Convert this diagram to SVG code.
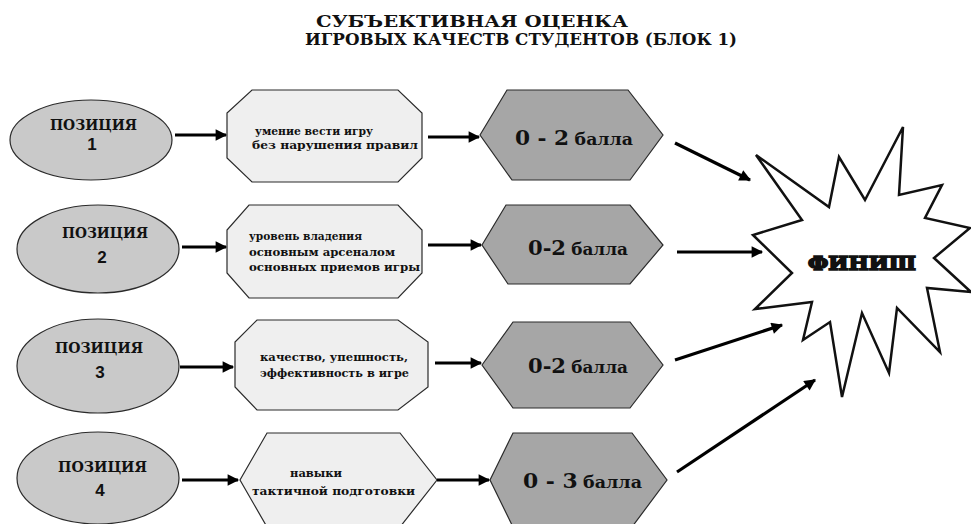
<svg xmlns="http://www.w3.org/2000/svg" width="971" height="524" viewBox="0 0 971 524">
<defs>
<style>
.ell{fill:#c9c9c9;stroke:#2a2a2a;stroke-width:1.2}
.oct{fill:#efefef;stroke:#2a2a2a;stroke-width:1.2}
.hex{fill:#a6a6a6;stroke:#2a2a2a;stroke-width:1.2}
.star{fill:#fff;stroke:#111;stroke-width:2.5;stroke-linejoin:miter}
.t{font-family:"DejaVu Serif","Liberation Serif",serif;font-weight:bold;fill:#111}
.pos{font-size:14px}
.num{font-family:"Liberation Sans",Arial,sans-serif;font-weight:bold;font-size:17px;fill:#111}
.small{font-size:10.5px}
.big{font-size:20px}
.mid{font-size:16px}
.title{font-size:16px}
.con{stroke:#000;stroke-width:3.2;fill:none}
</style>
<marker id="ah" viewBox="0 0 10 10" refX="9" refY="5" markerWidth="4.4" markerHeight="3.6" orient="auto" markerUnits="strokeWidth">
<path d="M0,0 L10,5 L0,10 z" fill="#000"/>
</marker>
</defs>
<rect width="971" height="524" fill="#fff"/>

<g id="title">
<text class="t title" x="316" y="27" textLength="312" lengthAdjust="spacingAndGlyphs">СУБЪЕКТИВНАЯ ОЦЕНКА</text>
<text class="t title" x="305" y="45" textLength="432" lengthAdjust="spacingAndGlyphs">ИГРОВЫХ КАЧЕСТВ СТУДЕНТОВ (БЛОК 1)</text>
</g>

<g id="pos1">
<ellipse class="ell" cx="91" cy="140" rx="81" ry="40"/>
<text class="t pos" x="50" y="130" textLength="87" lengthAdjust="spacingAndGlyphs">ПОЗИЦИЯ</text>
<text class="num" x="92" y="150" text-anchor="middle">1</text>
</g>
<g id="pos2">
<ellipse class="ell" cx="98" cy="249" rx="81" ry="44"/>
<text class="t pos" x="62" y="238" textLength="86" lengthAdjust="spacingAndGlyphs">ПОЗИЦИЯ</text>
<text class="num" x="102" y="263" text-anchor="middle">2</text>
</g>
<g id="pos3">
<ellipse class="ell" cx="98" cy="366" rx="81" ry="47"/>
<text class="t pos" x="55" y="353" textLength="88" lengthAdjust="spacingAndGlyphs">ПОЗИЦИЯ</text>
<text class="num" x="100" y="378" text-anchor="middle">3</text>
</g>
<g id="pos4">
<ellipse class="ell" cx="98" cy="478" rx="81" ry="46"/>
<text class="t pos" x="58" y="472" textLength="89" lengthAdjust="spacingAndGlyphs">ПОЗИЦИЯ</text>
<text class="num" x="100" y="496" text-anchor="middle">4</text>
</g>

<g id="crit1">
<polygon class="oct" points="252,90 398,90 422,113 422,158 398,182 252,182 227,158 227,113"/>
<text class="t small" x="255" y="135" textLength="118" lengthAdjust="spacingAndGlyphs">умение вести игру</text>
<text class="t small" x="252" y="149" textLength="166" lengthAdjust="spacingAndGlyphs">без нарушения правил</text>
</g>
<g id="crit2">
<polygon class="oct" points="249,205 398,205 422,230 422,273 398,298 249,298 227,273 227,230"/>
<text class="t small" x="249" y="240" textLength="113" lengthAdjust="spacingAndGlyphs">уровень владения</text>
<text class="t small" x="249" y="256" textLength="146" lengthAdjust="spacingAndGlyphs">основным арсеналом</text>
<text class="t small" x="249" y="271" textLength="171" lengthAdjust="spacingAndGlyphs">основных приемов игры</text>
</g>
<g id="crit3">
<polygon class="oct" points="257,320 398,320 428,342 428,387 398,410 257,410 235,387 235,342"/>
<text class="t small" x="260" y="361" textLength="148" lengthAdjust="spacingAndGlyphs">качество, упешность,</text>
<text class="t small" x="260" y="377" textLength="149" lengthAdjust="spacingAndGlyphs">эффективность в игре</text>
</g>
<g id="crit4">
<polygon class="oct" points="267,433 400,433 437,480 400,527 267,527 240,480"/>
<text class="t small" x="290" y="477" textLength="52" lengthAdjust="spacingAndGlyphs">навыки</text>
<text class="t small" x="252" y="495" textLength="163" lengthAdjust="spacingAndGlyphs">тактичной подготовки</text>
</g>

<g id="score1">
<polygon class="hex" points="480,135 507,90 628,90 663,135 630,180 512,180"/>
<text class="t" x="515" y="145" textLength="118" lengthAdjust="spacingAndGlyphs"><tspan class="big">0 - 2</tspan><tspan class="mid" dx="5">балла</tspan></text>
</g>
<g id="score2">
<polygon class="hex" points="482,245 506,205 630,205 663,245 630,284 508,284"/>
<text class="t" x="528" y="255" textLength="100" lengthAdjust="spacingAndGlyphs"><tspan class="big">0-2</tspan><tspan class="mid" dx="5">балла</tspan></text>
</g>
<g id="score3">
<polygon class="hex" points="482,365 513,322 630,322 663,365 630,408 513,408"/>
<text class="t" x="528" y="373" textLength="100" lengthAdjust="spacingAndGlyphs"><tspan class="big">0-2</tspan><tspan class="mid" dx="5">балла</tspan></text>
</g>
<g id="score4">
<polygon class="hex" points="490,480 513,433 632,433 667,480 632,527 513,527"/>
<text class="t" x="523" y="488" textLength="119" lengthAdjust="spacingAndGlyphs"><tspan class="big">0 - 3</tspan><tspan class="mid" dx="5">балла</tspan></text>
</g>

<g id="finish">
<polygon class="star" points="756,155 829,207 839,157 865,200 903,127 899,195 942,185 925,218 970,228 934,258 971,292 927,288 940,352 897,308 889,373 862,313 842,397 830,322 803,340 812,302 755,309 792,273 753,235 802,220"/>
<text class="t" x="808" y="270" font-size="18" stroke="#111" stroke-width="1.6" textLength="108" lengthAdjust="spacingAndGlyphs">ФИНИШ</text>
</g>

<g id="connectors">
<line class="con" x1="175" y1="135" x2="226" y2="135" marker-end="url(#ah)"/>
<line class="con" x1="182" y1="247" x2="226" y2="247" marker-end="url(#ah)"/>
<line class="con" x1="180" y1="367" x2="233" y2="367" marker-end="url(#ah)"/>
<line class="con" x1="182" y1="480" x2="238" y2="480" marker-end="url(#ah)"/>
<line class="con" x1="428" y1="137" x2="479" y2="137" marker-end="url(#ah)"/>
<line class="con" x1="428" y1="245" x2="481" y2="245" marker-end="url(#ah)"/>
<line class="con" x1="435" y1="363" x2="481" y2="363" marker-end="url(#ah)"/>
<line class="con" x1="437" y1="480" x2="489" y2="480" marker-end="url(#ah)"/>
<line class="con" x1="675" y1="143" x2="750" y2="180" marker-end="url(#ah)"/>
<line class="con" x1="677" y1="252" x2="762" y2="252" marker-end="url(#ah)"/>
<line class="con" x1="675" y1="360" x2="782" y2="325" marker-end="url(#ah)"/>
<line class="con" x1="677" y1="472" x2="815" y2="380" marker-end="url(#ah)"/>
</g>
</svg>
